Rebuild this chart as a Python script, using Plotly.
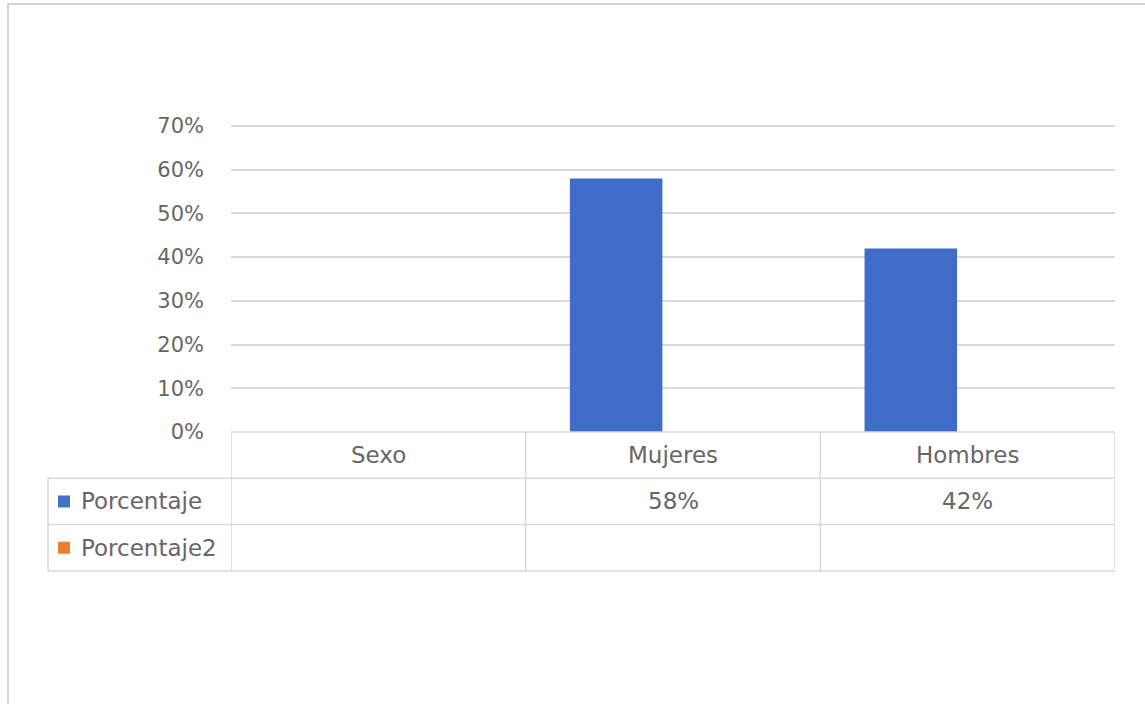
import plotly.graph_objects as go

# Chart data
categories = ["Sexo", "Mujeres", "Hombres"]
porcentaje = [None, 0.58, 0.42]
porcentaje2 = [None, None, None]
series_names = ["Porcentaje", "Porcentaje2"]
series_colors = ["#4472c4", "#ed7d31"]
y_ticks = [0, 0.1, 0.2, 0.3, 0.4, 0.5, 0.6, 0.7]

W, H = 1145, 704
FONT = "DejaVu Sans"
TICK_SIZE = 21
TABLE_SIZE = 23
TXT = "#666666"
GRID = "#d9d9d9"


def px_x(p):
    return p / W


def px_y(p):
    return 1 - p / H


# plot area in pixels
left, right, bottom = 231, 1115, 432
px_per_unit = 306 / 0.7
y_max = 0.71
top = bottom - y_max * px_per_unit
row_h = 46.3
rows = [bottom, bottom + row_h, bottom + 2 * row_h, bottom + 3 * row_h]
legend_left = 48

fig = go.Figure()

fig.add_trace(go.Bar(
    x=categories, y=porcentaje, name=series_names[0],
    marker=dict(color="#3f6cc9", line=dict(width=0)),
    width=0.314, offset=-0.35, showlegend=False,
))
fig.add_trace(go.Bar(
    x=categories, y=porcentaje2, name=series_names[1],
    marker=dict(color=series_colors[1], line=dict(width=0)),
    width=0.314, offset=0.036, showlegend=False,
))

shapes = []
# outer chart border
shapes.append(dict(type="rect", xref="paper", yref="paper",
                   x0=px_x(8), x1=px_x(W + 5), y0=px_y(H + 5), y1=px_y(4),
                   line=dict(color="#d4d4d4", width=2), layer="below"))

# data table: horizontal rules
shapes.append(dict(type="line", xref="paper", yref="paper",
                   x0=px_x(left), x1=px_x(right), y0=px_y(rows[0]), y1=px_y(rows[0]),
                   line=dict(color=GRID, width=1.5)))
for r in rows[1:]:
    shapes.append(dict(type="line", xref="paper", yref="paper",
                       x0=px_x(legend_left), x1=px_x(right), y0=px_y(r), y1=px_y(r),
                       line=dict(color=GRID, width=1.5)))
# vertical rules at category boundaries
for i in range(len(categories) + 1):
    shapes.append(dict(type="line", xref="x", yref="paper",
                       x0=i - 0.5, x1=i - 0.5, y0=px_y(rows[-1]), y1=px_y(rows[0]),
                       line=dict(color=GRID, width=1.5)))
shapes.append(dict(type="line", xref="paper", yref="paper",
                   x0=px_x(legend_left), x1=px_x(legend_left),
                   y0=px_y(rows[-1]), y1=px_y(rows[1]),
                   line=dict(color=GRID, width=1.5)))

annotations = []
# header row with category names
for c in categories:
    annotations.append(dict(x=c, y=px_y((rows[0] + rows[1]) / 2), xref="x", yref="paper",
                            text=c, showarrow=False, xanchor="center", yanchor="middle",
                            font=dict(family=FONT, size=TABLE_SIZE, color=TXT)))

# series rows: legend key and value cells
for k, (name, vals) in enumerate(zip(series_names, [porcentaje, porcentaje2])):
    yc = (rows[k + 1] + rows[k + 2]) / 2
    shapes.append(dict(type="rect", xref="paper", yref="paper",
                       x0=px_x(58), x1=px_x(70), y0=px_y(yc + 6), y1=px_y(yc - 6),
                       fillcolor=series_colors[k], line=dict(width=0)))
    annotations.append(dict(x=px_x(79), y=px_y(yc), xref="paper", yref="paper",
                            text=name, showarrow=False, xanchor="left", yanchor="middle",
                            font=dict(family=FONT, size=TABLE_SIZE, color=TXT)))
    for c, v in zip(categories, vals):
        if v is not None:
            annotations.append(dict(x=c, y=px_y(yc), xref="x", yref="paper",
                                    text=f"{v:.0%}", showarrow=False,
                                    xanchor="center", yanchor="middle",
                                    font=dict(family=FONT, size=TABLE_SIZE, color=TXT)))

fig.update_layout(
    template="none",
    width=W, height=H,
    margin=dict(l=0, r=0, t=0, b=0, pad=0, autoexpand=False),
    paper_bgcolor="white", plot_bgcolor="white",
    barmode="overlay",
    shapes=shapes, annotations=annotations,
    xaxis=dict(domain=[px_x(left), px_x(right)], type="category",
               categoryorder="array", categoryarray=categories,
               range=[-0.5, 2.5], showticklabels=False, showgrid=False,
               zeroline=False, showline=False, ticks="", automargin=False),
    yaxis=dict(domain=[px_y(bottom), px_y(top)], range=[0, y_max],
               tickvals=y_ticks, tickformat=".0%",
               showgrid=True, gridcolor=GRID, gridwidth=1.5,
               zeroline=False, showline=False, ticks="", automargin=False,
               ticklabelstandoff=26,
               tickfont=dict(family=FONT, size=TICK_SIZE, color=TXT)),
)

fig.write_html("out.html")
